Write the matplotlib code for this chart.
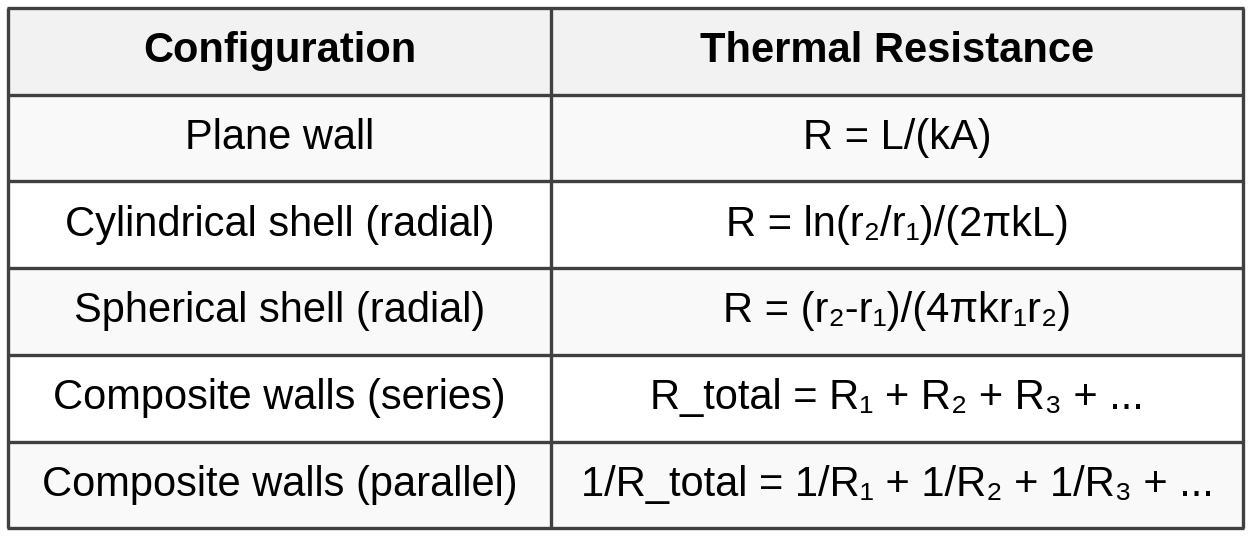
import matplotlib.pyplot as plt
from matplotlib.patches import Rectangle

headers = ['Configuration', 'Thermal Resistance']
configs = ['Plane wall', 'Cylindrical shell (radial)', 'Spherical shell (radial)',
           'Composite walls (series)', 'Composite walls (parallel)']
formulas = ['R = L/(kA)', 'R = ln(r₂/r₁)/(2πkL)', 'R = (r₂-r₁)/(4πkr₁r₂)',
            'R_total = R₁ + R₂ + R₃ + ...', '1/R_total = 1/R₁ + 1/R₂ + 1/R₃ + ...']

W, H = 1251, 537
fam = ['Liberation Sans', 'DejaVu Sans']
fig = plt.figure(figsize=(W / 100, H / 100), dpi=100)
ax = fig.add_axes([0, 0, 1, 1])
ax.set_xlim(0, W)
ax.set_ylim(H, 0)
ax.axis('off')

left, right, mid = 8, 1243, 551
top, row_h = 8, 86.7
n = len(configs) + 1
line_c = '#404040'

for r in range(n):
    y0 = top + r * row_h
    bg = '#f2f2f2' if r == 0 else ('#f9f9f9' if r % 2 == 1 else '#ffffff')
    ax.add_patch(Rectangle((left, y0), right - left, row_h, facecolor=bg, edgecolor='none'))
    if r == 0:
        a, b, kw = headers[0], headers[1], dict(fontweight='bold')
    else:
        a, b, kw = configs[r - 1], formulas[r - 1], {}
    yc = y0 + row_h / 2
    ax.text((left + mid) / 2, yc, a, ha='center', va='center', fontsize=30, family=fam, **kw)
    ax.text((mid + right) / 2, yc, b, ha='center', va='center', fontsize=30, family=fam, **kw)

for r in range(n + 1):
    y = top + r * row_h
    ax.plot([left - 1, right + 1], [y, y], color=line_c, lw=2.4, solid_capstyle='butt')
for x in (left, mid, right):
    ax.plot([x, x], [top, top + n * row_h], color=line_c, lw=2.4, solid_capstyle='butt')

fig.savefig('out.png', dpi=100)
